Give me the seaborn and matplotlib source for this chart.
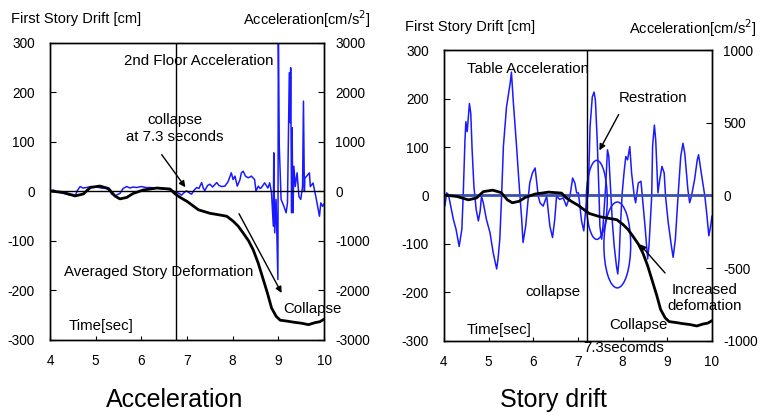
import numpy as np
import matplotlib
matplotlib.use('Agg')
import matplotlib.pyplot as plt
from matplotlib.patches import Ellipse
import seaborn as sns

# 시간축 (초) 과 1층 층간변위 (cm)
drift_t = [4.00, 4.29, 4.55, 4.73, 4.88, 5.09, 5.28, 5.42, 5.53, 5.68, 5.82, 6.04, 6.34, 6.63,
           6.74, 6.85, 7.00, 7.25, 7.50, 7.75, 7.87, 8.01, 8.12, 8.23, 8.35, 8.45, 8.56, 8.67,
           8.76, 8.85, 8.95, 9.04, 9.20, 9.33, 9.50, 9.66, 9.80, 9.91, 10.0]
drift_v = [1, -2, -9, -5, 8, 11, 6, -9, -15, -12, -4, 3, 7, 5,
           -5, -12, -20, -37, -44, -48, -50, -60, -70, -84, -100, -118, -145, -178,
           -205, -235, -252, -260, -262, -264, -266, -269, -265, -263, -258]

# 2층 가속도 (cm/s2)
acc2_t = [4.00, 4.08, 4.15, 4.22, 4.30, 4.38, 4.44, 4.50, 4.55, 4.60, 4.66, 4.72, 4.80, 4.90,
          5.02, 5.12, 5.24, 5.30, 5.35, 5.42, 5.48, 5.53, 5.60, 5.68, 5.75, 5.82, 5.90, 6.00,
          6.10, 6.19, 6.30, 6.41, 6.50, 6.63, 6.70, 6.77, 6.83, 6.88, 6.94, 6.99, 7.05, 7.10,
          7.15, 7.21, 7.26, 7.32, 7.36, 7.39, 7.45, 7.50, 7.56, 7.65, 7.70, 7.76, 7.83, 7.90,
          7.97, 8.01, 8.05, 8.10, 8.16, 8.19, 8.23, 8.28, 8.34, 8.41, 8.48, 8.51, 8.56, 8.60,
          8.63, 8.70, 8.77, 8.81, 8.85, 8.89, 8.90, 8.92, 8.95, 8.99, 9.00, 9.02, 9.06, 9.12,
          9.17, 9.20, 9.24, 9.26, 9.27, 9.29, 9.30, 9.32, 9.34, 9.37, 9.41, 9.45, 9.49, 9.53,
          9.55, 9.57, 9.58, 9.62, 9.68, 9.70, 9.76, 9.82, 9.86, 9.90, 9.93, 9.97, 10.0]
acc2_v = [13, 30, -10, -20, -40, -60, -74, -60, -88, 20, 100, 70, 80, 100,
          90, 70, 60, 20, -54, -88, -60, -40, 60, 100, 70, 90, 80, 100,
          80, 80, 70, 60, 50, 34, 10, -20, -40, -74, -20, 13, -30, -54,
          20, 80, 60, 180, 60, 20, 120, 148, 90, 180, 120, 100, 108, 200,
          377, 240, 310, 108, 240, 377, 410, 310, 276, 310, 240, 7, 108, 60,
          80, 175, 70, 175, -20, -700, 781, -835, -160, -1778, 3300, 915, -160, -296,
          -430, -230, 2400, 1390, 2500, -430, 1290, -430, 510, 100, 377, -100, -160, 100,
          1825, 0, 270, 310, 377, 100, 170, -100, -296, -500, -230, -300, -250]

# 진동대 가속도 (cm/s2)
table_t = [4.00, 4.02, 4.06, 4.10, 4.21, 4.27, 4.34, 4.40, 4.43, 4.47, 4.49, 4.52, 4.57, 4.60,
           4.63, 4.67, 4.72, 4.77, 4.81, 4.84, 4.88, 4.95, 5.03, 5.10, 5.18, 5.21, 5.25, 5.29,
           5.33, 5.40, 5.48, 5.51, 5.55, 5.62, 5.68, 5.74, 5.77, 5.83, 5.89, 5.92, 5.98, 6.04,
           6.07, 6.11, 6.15, 6.22, 6.30, 6.33, 6.37, 6.43, 6.48, 6.52, 6.59, 6.67, 6.74, 6.82,
           6.88, 6.93, 6.97, 7.01, 7.08, 7.13, 7.18, 7.23, 7.27, 7.32, 7.36, 7.39, 7.43, 7.47,
           7.49, 7.53, 7.56, 7.62, 7.66, 7.69, 7.73, 7.77, 7.81, 7.86, 7.89, 7.92, 7.95, 7.99,
           8.03, 8.07, 8.11, 8.16, 8.20, 8.26, 8.29, 8.35, 8.41, 8.44, 8.50, 8.56, 8.59, 8.65,
           8.67, 8.71, 8.74, 8.79, 8.83, 8.88, 8.93, 8.96, 9.02, 9.09, 9.13, 9.18, 9.24, 9.30,
           9.35, 9.39, 9.46, 9.50, 9.54, 9.61, 9.67, 9.70, 9.76, 9.84, 9.88, 9.93, 9.97, 10.0]
table_v = [0, -73, 18, 7, -164, -232, -350, -232, -5, 382, 507, 439, 632, 564,
           314, 64, -95, -175, -107, -5, -50, -164, -255, -391, -505, -436, -300, -5,
           336, 609, 768, 848, 653, 359, 86, -164, -323, -209, -5, 86, 155, 189,
           109, -5, -50, -73, -5, -95, -209, -289, -164, -5, -27, -16, -73, -5,
           120, 86, 18, 18, -175, -243, -73, 18, 473, 677, 711, 655, 382, 18,
           -209, -300, -209, 64, 314, 268, 41, -186, -345, -482, -539, -436, -209, 18,
           155, 268, 245, 336, 155, -5, -50, 86, 98, -5, -209, -436, -345, -5,
           336, 484, 382, 18, 109, 200, 155, -5, -186, -345, -425, -300, -5, 268,
           359, 291, 41, -50, -5, 109, 245, 280, 155, -5, -118, -277, -209, -141]

x_ticks = [4, 5, 6, 7, 8, 9, 10]
drift_ticks = [-300, -200, -100, 0, 100, 200, 300]
acc2_ticks = [-3000, -2000, -1000, 0, 1000, 2000, 3000]
table_ticks = [-1000, -500, 0, 500, 1000]

sns.set_style('ticks')
plt.rcParams['font.family'] = ['Liberation Sans', 'DejaVu Sans']
plt.rcParams['axes.unicode_minus'] = False
plt.rcParams['text.color'] = 'black'
plt.rcParams['xtick.color'] = 'black'
plt.rcParams['ytick.color'] = 'black'

BLUE = '#1a1aff'
fig = plt.figure(figsize=(7.66, 4.16), dpi=100)


def setup(ax, ax2, acc_lim, acc_ticks):
    ax.set_xlim(4, 10)
    ax.set_ylim(-300, 300)
    ax.set_xticks(x_ticks)
    ax.set_yticks(drift_ticks)
    ax2.set_ylim(*acc_lim)
    ax2.set_yticks(acc_ticks)
    for a in (ax, ax2):
        a.set_xlabel('')
        a.set_ylabel('')
        for s in a.spines.values():
            s.set_visible(True)
            s.set_color('black')
            s.set_linewidth(1.0)
    ax.tick_params(axis='x', direction='in', length=3, pad=10, labelsize=9.8, colors='black')
    ax.tick_params(axis='y', direction='in', length=4, pad=11, labelsize=9.8, colors='black')
    ax2.tick_params(axis='y', direction='in', length=4, pad=8, labelsize=9.8, colors='black')
    # 변위선을 가속도선 위에 그리기
    ax.set_zorder(ax2.get_zorder() + 1)
    ax.patch.set_visible(False)


# ---- 왼쪽: 2층 가속도 ----
axL = fig.add_axes([0.0653, 0.1827, 0.3577, 0.714])
axL2 = axL.twinx()
sns.lineplot(x=acc2_t, y=acc2_v, ax=axL2, color=BLUE, lw=1.1, estimator=None, sort=False)
sns.lineplot(x=drift_t, y=drift_v, ax=axL, color='black', lw=2.0, estimator=None, sort=False)
axL.axhline(0, color='black', lw=1.0)
axL.axvline(6.76, color='black', lw=1.0)
setup(axL, axL2, (-3000, 3000), acc2_ticks)

fs = 10.8
axL.text(0.544, 0.939, '2nd Floor Acceleration', transform=axL.transAxes, ha='center', va='center', fontsize=fs)
axL.text(0.456, 0.712, 'collapse\nat 7.3 seconds', transform=axL.transAxes, ha='center', va='center', fontsize=fs)
axL.text(0.051, 0.229, 'Averaged Story Deformation', transform=axL.transAxes, ha='left', va='center', fontsize=fs)
axL.text(0.850, 0.104, 'Collapse', transform=axL.transAxes, ha='left', va='center', fontsize=fs)
axL.text(0.069, 0.047, 'Time[sec]', transform=axL.transAxes, ha='left', va='center', fontsize=fs)
axL.annotate('', xy=(7.0, 4), xytext=(6.41, 79),
             arrowprops=dict(arrowstyle='-|>', color='black', lw=1.0, mutation_scale=9))
axL.annotate('', xy=(9.1, -210), xytext=(8.11, -40),
             arrowprops=dict(arrowstyle='-|>', color='black', lw=1.0, mutation_scale=9))

# ---- 오른쪽: 층간변위 ----
axR = fig.add_axes([0.5796, 0.1803, 0.3499, 0.6995])
axR2 = axR.twinx()
sns.lineplot(x=table_t, y=table_v, ax=axR2, color=BLUE, lw=1.1, estimator=None, sort=False)
axR2.axhline(0, color='#3a4fb0', lw=2.0)
sns.lineplot(x=drift_t, y=drift_v, ax=axR, color='black', lw=2.0, estimator=None, sort=False)
axR.axvline(7.2, color='black', lw=1.0)
setup(axR, axR2, (-1000, 1000), table_ticks)

axR.add_patch(Ellipse((7.42, -9), 0.47, 163, fill=False, edgecolor=BLUE, lw=1.1))
axR.add_patch(Ellipse((7.88, -102), 0.6, 177, fill=False, edgecolor=BLUE, lw=1.1))

axR.text(0.086, 0.935, 'Table Acceleration', transform=axR.transAxes, ha='left', va='center', fontsize=fs)
axR.text(0.653, 0.835, 'Restration', transform=axR.transAxes, ha='left', va='center', fontsize=fs)
axR.text(0.974, 0.149, 'Increased\ndefomation', transform=axR.transAxes, ha='center', va='center', fontsize=fs)
axR.text(0.302, 0.168, 'collapse', transform=axR.transAxes, ha='left', va='center', fontsize=fs)
axR.text(0.616, 0.055, 'Collapse', transform=axR.transAxes, ha='left', va='center', fontsize=fs)
axR.text(0.086, 0.038, 'Time[sec]', transform=axR.transAxes, ha='left', va='center', fontsize=fs)
axR.text(0.519, -0.024, '7.3secomds', transform=axR.transAxes, ha='left', va='center', fontsize=fs, clip_on=False)
axR.annotate('', xy=(7.45, 88), xytext=(7.94, 172),
             arrowprops=dict(arrowstyle='-|>', color='black', lw=1.0, mutation_scale=9))
axR.annotate('', xy=(8.34, -96), xytext=(8.99, -164),
             arrowprops=dict(arrowstyle='-|>', color='black', lw=1.0, mutation_scale=9))

# 축 제목 및 소제목
hfs = 10.5
fig.text(0.0144, 0.954, 'First Story Drift [cm]', ha='left', va='center', fontsize=hfs)
fig.text(0.484, 0.954, 'Acceleration[cm/s$^2$]', ha='right', va='center', fontsize=hfs)
fig.text(0.529, 0.935, 'First Story Drift [cm]', ha='left', va='center', fontsize=hfs)
fig.text(0.988, 0.933, 'Acceleration[cm/s$^2$]', ha='right', va='center', fontsize=hfs)
fig.text(0.2285, 0.038, 'Acceleration', ha='center', va='center', fontsize=18)
fig.text(0.722, 0.038, 'Story drift', ha='center', va='center', fontsize=18)

fig.savefig('out.png', dpi=100)
